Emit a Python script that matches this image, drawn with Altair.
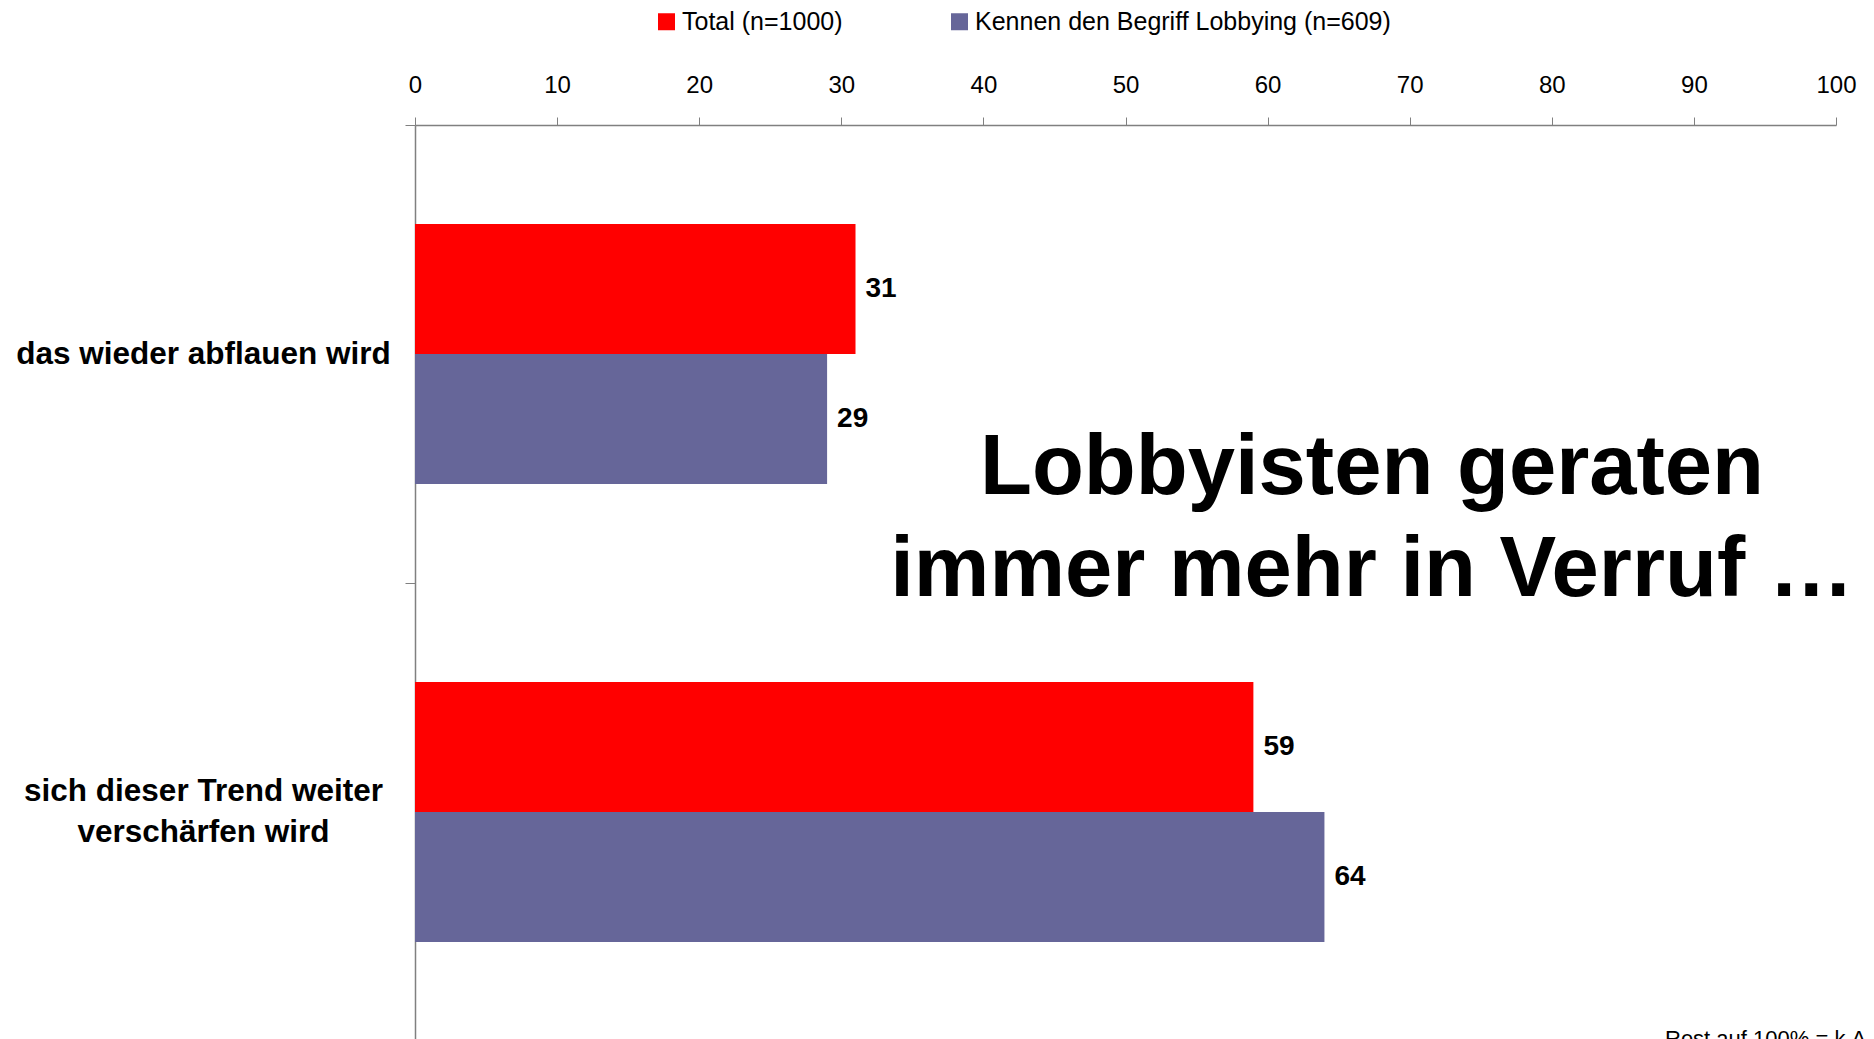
import altair as alt
import pandas as pd

categories = ["das wieder abflauen wird", "sich dieser Trend weiter\nverschärfen wird"]
series = ["Total (n=1000)", "Kennen den Begriff Lobbying (n=609)"]
total_values = [31, 59]
kennen_values = [29, 64]
x_ticks = [0, 10, 20, 30, 40, 50, 60, 70, 80, 90, 100]
colors = ["#FF0000", "#666699"]
title_text = "Lobbyisten geraten\nimmer mehr in Verruf …"
note_text = "Rest auf 100% = k.A."

rows = []
for i, c in enumerate(categories):
    rows.append({"cat": c, "series": series[0], "value": total_values[i]})
    rows.append({"cat": c, "series": series[1], "value": kennen_values[i]})
df = pd.DataFrame(rows)

SANS = "'Liberation Sans', Arial, sans-serif"

x_enc = alt.X(
    "value:Q",
    scale=alt.Scale(domain=[0, 100], nice=False, zero=True),
    axis=alt.Axis(
        orient="top", values=x_ticks, title=None, grid=False,
        tickSize=8, tickColor="#808080", domainColor="#808080",
        domainWidth=1.5, tickWidth=1, labelFlush=False,
        labelFont=SANS, labelFontSize=24, labelColor="black",
        labelPadding=20, format="d",
    ),
)
y_enc = alt.Y(
    "cat:N", sort=categories,
    scale=alt.Scale(paddingInner=0, paddingOuter=0),
    axis=alt.Axis(
        title=None, tickBand="extent", tickExtra=True,
        tickSize=10, tickColor="#808080", domainColor="#808080",
        domainWidth=1.5,
        labelFont=SANS, labelFontSize=31.5, labelFontWeight="bold",
        labelColor="black", labelAlign="center", labelBaseline="middle",
        labelPadding=202, labelLimit=600, labelLineHeight=41,
        labelExpr="split(datum.label, '\\n')",
        labelOffset={"condition": {"test": "datum.value === '" + categories[1].replace("\n", "\\n") + "'", "value": -21}, "value": 0},
    ),
)
yoff = alt.YOffset("series:N", sort=series, scale=alt.Scale(paddingInner=0, paddingOuter=0.762))
color = alt.Color(
    "series:N", sort=series,
    scale=alt.Scale(domain=series, range=colors),
    legend=alt.Legend(
        title=None, orient="none", direction="horizontal",
        legendX=239, legendY=-116,
        symbolType="square",
        symbolSize=289, symbolStrokeWidth=0, symbolOpacity=1,
        labelFont=SANS, labelFontSize=25, labelColor="black",
        labelOffset=3, columnPadding=104, labelLimit=800,
    ),
)

bars = alt.Chart(df).mark_bar().encode(x=x_enc, y=y_enc, yOffset=yoff, color=color)

values = alt.Chart(df).mark_text(
    align="left", baseline="middle", dx=10,
    font=SANS, fontWeight="bold", fontSize=28, color="black",
).encode(x=x_enc, y=y_enc, yOffset=yoff, text=alt.Text("value:Q"))

title = alt.Chart(pd.DataFrame({"t": [title_text]})).mark_text(
    align="center", baseline="middle", font=SANS, fontWeight="bold",
    fontSize=85, color="black", lineBreak="\n", lineHeight=102,
).encode(x=alt.value(957), y=alt.value(343), text="t:N")

note = alt.Chart(pd.DataFrame({"t": [note_text]})).mark_text(
    align="left", baseline="top", font=SANS, fontSize=22, color="black",
).encode(x=alt.value(1250), y=alt.value(904), text="t:N")

chart = alt.layer(bars, values, title, note).properties(
    width=1421, height=916,
    autosize=alt.AutoSizeParams(type="none"),
    padding={"left": 407, "top": 117, "right": 30, "bottom": 10},
).configure_view(stroke=None)

chart.save("out.html", embed_options={"renderer": "svg", "actions": False})
